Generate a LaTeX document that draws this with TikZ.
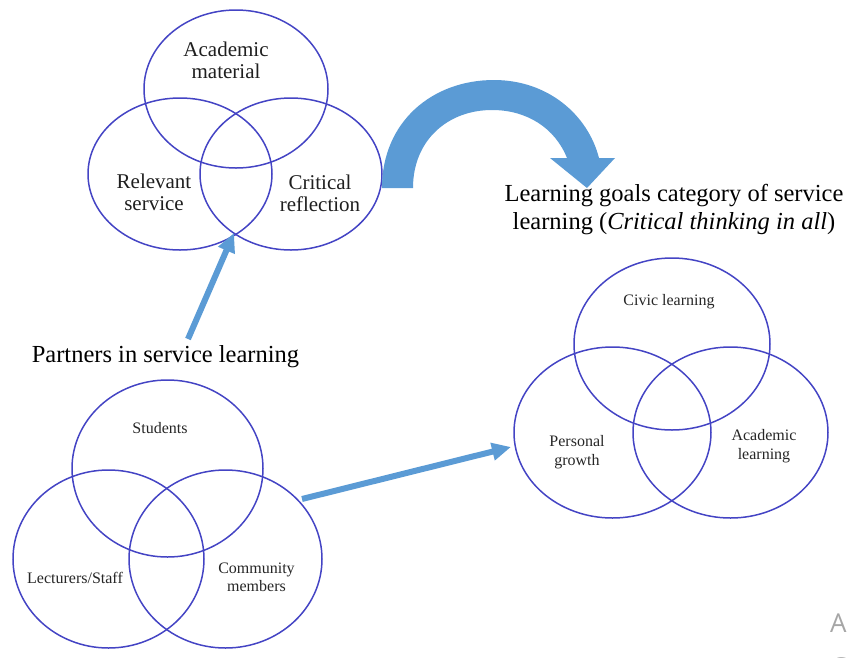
\documentclass[tikz,border=0pt]{standalone}
\usepackage{fontspec}
\setmainfont{Liberation Serif}
\newfontfamily\wmfont{Open Sans}
\usetikzlibrary{shapes.geometric,arrows.meta}
\definecolor{ringblue}{HTML}{4444C4}
\definecolor{arrowblue}{HTML}{5B9BD5}
\begin{document}
\begin{tikzpicture}[x=1pt,y=-1pt,
  ring/.style={ellipse,draw=ringblue,line width=1.5pt,inner sep=0pt,outer sep=0pt},
  bigtxt/.style={font=\fontsize{21}{22}\selectfont,align=center,text=black!88,inner sep=0pt},
  smalltxt/.style={font=\fontsize{16}{18.5}\selectfont,align=center,text=black!85,inner sep=0pt},
  headtxt/.style={font=\fontsize{24.5}{28}\selectfont,align=center,inner sep=0pt},
  pointer/.style={draw=arrowblue,line width=6pt,-{Triangle[length=19pt,width=17pt]}}]
\useasboundingbox (0,0) rectangle (847,657);
\clip (0,0) rectangle (847,657);

% ---- components of service learning ----
\node[ring,minimum width=184pt,minimum height=158pt] (acad) at (236,89) {};
\node[ring,minimum width=184pt,minimum height=152pt] (serv) at (180,174) {};
\node[ring,minimum width=182pt,minimum height=152pt] (refl) at (291,174) {};
\node[bigtxt] (tacad) at (226,60) {Academic\\material};
\node[bigtxt] (tserv) at (154,192.5) {Relevant\\service};
\node[bigtxt] (trefl) at (320,193) {Critical\\reflection};

% ---- curved block arrow ----
\fill[arrowblue] (382,188) .. controls (382,122) and (432,80) .. (494,80)
  .. controls (548,80) and (588,115) .. (599,158) -- (615,158) -- (587,188)
  -- (550,158) -- (567,158) .. controls (555,128) and (527,110) .. (492,110)
  .. controls (448,110) and (413,140) .. (413,188) -- cycle;

\node[headtxt] (goals) at (674,210) {Learning goals category of service\\learning (\textit{Critical thinking in all})};

% ---- partners ----
\node[headtxt] (partners) at (165.5,357) {Partners in service learning};
\node[ring,minimum width=191pt,minimum height=177pt] (stud) at (167.5,468.5) {};
\node[ring,minimum width=191pt,minimum height=178pt] (lect) at (108.5,559) {};
\node[ring,minimum width=193pt,minimum height=178pt] (comm) at (225.5,559) {};
\node[smalltxt] (tstud) at (160,428) {Students};
\node[smalltxt] (tlect) at (75,578) {Lecturers/Staff};
\node[smalltxt] (tcomm) at (256.5,577.5) {Community\\members};

% ---- learning goals ----
\node[ring,minimum width=196pt,minimum height=172pt] (civic) at (672,344) {};
\node[ring,minimum width=197pt,minimum height=171pt] (pers) at (612.5,432.5) {};
\node[ring,minimum width=195pt,minimum height=171pt] (acl) at (730.5,432.5) {};
\node[smalltxt] (tcivic) at (669,302) {Civic learning};
\node[smalltxt] (tpers) at (577,452) {Personal\\growth};
\node[smalltxt] (tacl) at (764,446) {Academic\\learning};

% ---- straight arrows ----
\coordinate (a1s) at (188,339);
\coordinate (a1e) at (234,233);
\draw[pointer] (a1s) -- (a1e);
\coordinate (a2s) at (302,499);
\coordinate (a2e) at (511,447);
\draw[pointer] (a2s) -- (a2e);

% ---- system overlay text at the corner ----
\node[anchor=base west,inner sep=0pt,text=black!35,font=\wmfont\fontsize{26}{30}\selectfont] (wa) at (830,632) {A};
\node[anchor=base west,inner sep=0pt,text=black!35,font=\wmfont\fontsize{26}{30}\selectfont] (wg) at (830,676) {G};
\end{tikzpicture}
\end{document}
